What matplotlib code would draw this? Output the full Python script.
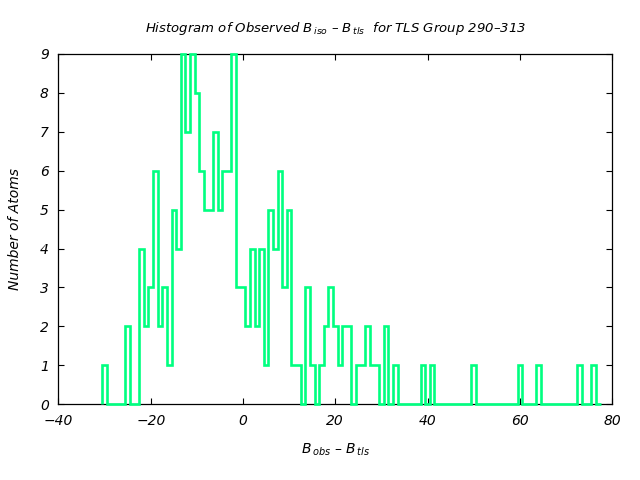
import numpy as np
import matplotlib
matplotlib.use("Agg")
import matplotlib.pyplot as plt

plt.rcParams['font.family'] = ['DejaVu Sans']
plt.rcParams['mathtext.fontset'] = 'dejavusans'

# bin centres (width 1) and atom counts per bin
bin_lo = -30
bin_width = 1.0
counts = [1, 0, 0, 0, 0, 2, 0, 0, 4, 2,      # -30 .. -21
          3, 6, 2, 3, 1, 5, 4, 9, 7, 9,      # -20 .. -11
          8, 6, 5, 5, 7, 5, 6, 6, 9, 3,      # -10 .. -1
          3, 2, 4, 2, 4, 1, 5, 4, 6, 3,      #   0 .. 9
          5, 1, 1, 0, 3, 1, 0, 1, 2, 3,      #  10 .. 19
          2, 1, 2, 2, 0, 1, 1, 2, 1, 1,      #  20 .. 29
          0, 2, 0, 1, 0, 0, 0, 0, 0, 1,      #  30 .. 39
          0, 1, 0, 0, 0, 0, 0, 0, 0, 0,      #  40 .. 49
          1, 0, 0, 0, 0, 0, 0, 0, 0, 0,      #  50 .. 59
          1, 0, 0, 0, 1, 0, 0, 0, 0, 0,      #  60 .. 69
          0, 0, 0, 1, 0, 0, 1, 0]            #  70 .. 77

x_ticks = [-40, -20, 0, 20, 40, 60, 80]
y_ticks = list(range(0, 10))

edges = bin_lo - bin_width / 2 + bin_width * np.arange(len(counts) + 1)

fig = plt.figure(figsize=(6.4, 4.8), dpi=100)
ax = fig.add_axes([0.0914, 0.158, 0.865, 0.7295])

ax.stairs(counts, edges, baseline=0, color='#00ff80', linewidth=1.9,
          clip_on=False, zorder=3)

ax.set_xlim(-40, 80)
ax.set_ylim(0, 9)
ax.set_xticks(x_ticks)
ax.set_yticks(y_ticks)
ax.tick_params(direction='in', length=4, width=0.8, top=True, right=True,
               labelsize=10, pad=7)
for lab in ax.get_xticklabels() + ax.get_yticklabels():
    lab.set_fontstyle('italic')
for sp in ax.spines.values():
    sp.set_linewidth(0.9)

ax.set_title(r"Histogram of Observed $B_{\,iso}$ – $B_{\,tls}$  for TLS Group 290–313",
             fontsize=9.5, fontstyle='italic', pad=16)
ax.set_xlabel(r"$B_{\,obs}$ – $B_{\,tls}$", fontsize=10, fontstyle='italic', labelpad=10)
ax.set_ylabel("Number of Atoms", fontsize=10, fontstyle='italic', labelpad=13)

fig.savefig("out.png", dpi=100)
